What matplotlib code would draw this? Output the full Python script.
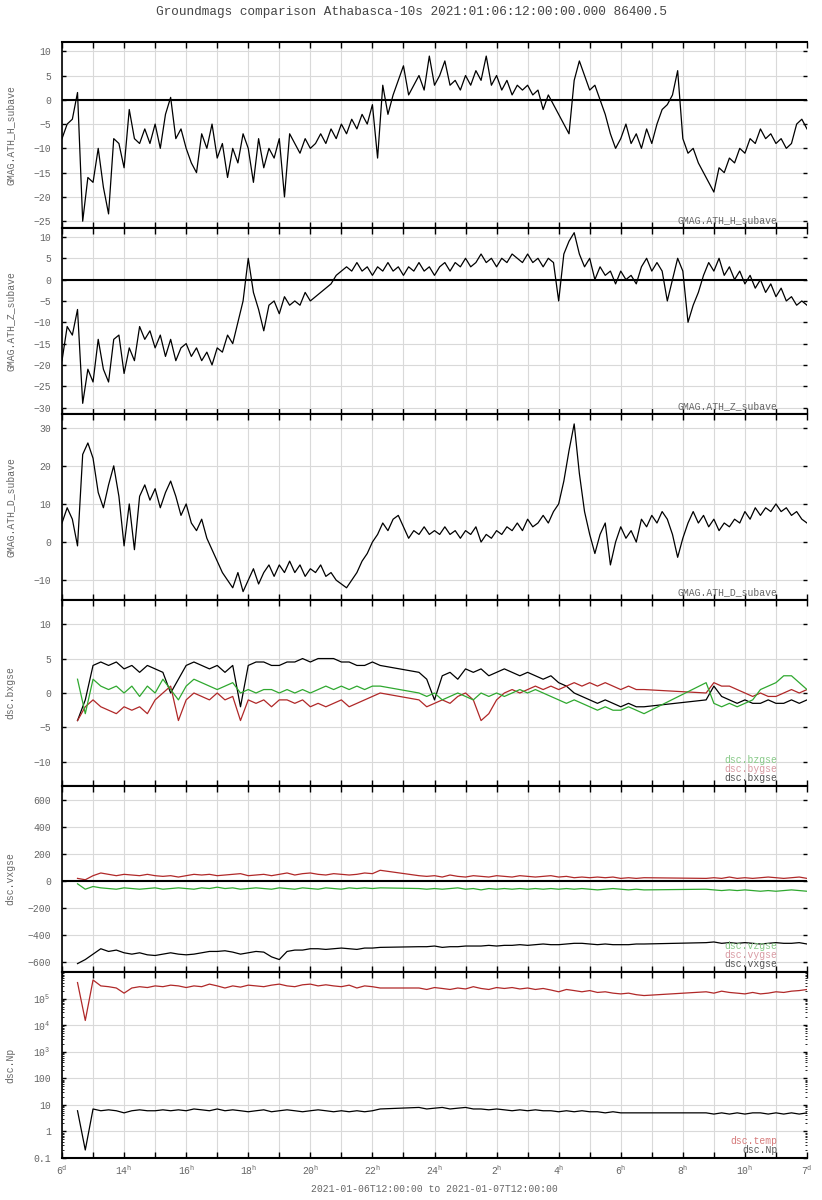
import numpy as np
import matplotlib
matplotlib.use("Agg")
import matplotlib.pyplot as plt
from matplotlib.ticker import FixedLocator, LogLocator, NullFormatter

plt.rcParams['font.family'] = ['Liberation Mono', 'DejaVu Sans Mono']

# ground magnetometer, 10 min samples from 2021-01-06 12:00 (hours)
gm_hours = np.arange(145) / 6.0

ath_h = [-8, -5, -4, 1.5, -25, -16, -17, -10, -18, -23.5, -8, -9, -14, -2, -8, -9,
         -6, -9, -5, -10, -3, 0.5, -8, -6, -10, -13, -15, -7, -10, -5, -12, -9,
         -16, -10, -13, -7, -10, -17, -8, -14, -10, -12, -8, -20, -7, -9, -11, -8,
         -10, -9, -7, -9, -6, -8, -5, -7, -4, -6, -3, -5, -1, -12, 3, -3, 1, 4,
         7, 1, 3, 5, 2, 9, 3, 5, 8, 3, 4, 2, 5, 3, 6, 4, 9, 3, 5, 2,
         4, 1, 3, 2, 3, 1, 2, -2, 1, -1, -3, -5, -7, 4, 8, 5, 2, 3, 0, -3,
         -7, -10, -8, -5, -9, -7, -10, -6, -9, -5, -2, -1, 1, 6, -8, -11, -10, -13, -15, -17,
         -19, -14, -15, -12, -13, -10, -11, -8, -9, -6, -8, -7, -9, -8, -10, -9, -5, -4, -6]

ath_z = [-19, -11, -13, -7, -29, -21, -24, -14, -21, -24, -14, -13, -22, -16, -19, -11,
         -14, -12, -16, -13, -18, -14, -19, -16, -15, -18, -16, -19, -17, -20, -16, -17,
         -13, -15, -10, -5, 5, -3, -7, -12, -6, -5, -8, -4, -6, -5, -6, -3,
         -5, -4, -3, -2, -1, 1, 2, 3, 2, 4, 2, 3, 1, 3, 2, 4, 2, 3,
         1, 3, 2, 4, 2, 3, 1, 3, 4, 2, 4, 3, 5, 3, 4, 6, 4, 5, 3, 5,
         4, 6, 5, 4, 6, 4, 5, 3, 5, 4, -5, 6, 9, 11, 6, 3, 5, 0, 3, 1,
         2, -1, 2, 0, 1, -1, 3, 5, 2, 4, 2, -5, 0, 5, 2, -10, -6, -3, 1, 4,
         2, 5, 1, 3, 0, 2, -1, 1, -2, 0, -3, -1, -4, -2, -5, -4, -6, -5, -6]

ath_d = [5, 9, 6, -1, 23, 26, 22, 13, 9, 15, 20, 12, -1, 10, -2, 12,
         15, 11, 14, 9, 13, 16, 12, 7, 10, 5, 3, 6, 1, -2, -5, -8,
         -10, -12, -8, -13, -10, -7, -11, -8, -6, -9, -6, -8, -5, -8, -6, -9,
         -7, -8, -6, -9, -8, -10, -11, -12, -10, -8, -5, -3, 0, 2, 5, 3, 6, 7,
         4, 1, 3, 2, 4, 2, 3, 2, 4, 2, 3, 1, 3, 2, 4, 0, 2, 1, 3, 2,
         4, 3, 5, 3, 6, 4, 5, 7, 5, 8, 10, 16, 24, 31, 18, 8, 2, -3, 2, 5,
         -6, 0, 4, 1, 3, 0, 6, 4, 7, 5, 8, 6, 2, -4, 1, 5, 8, 5, 7, 4,
         6, 3, 5, 4, 6, 5, 8, 6, 9, 7, 9, 8, 10, 8, 9, 7, 8, 6, 5]

# DSCOVR solar wind, 15 min samples (hours), data gaps left out
sw_hours = np.concatenate([np.arange(0.5, 10.26, 0.25),
                           np.arange(11.5, 18.76, 0.25),
                           np.arange(20.75, 24.01, 0.25)])

bx = [-4, -1, 4, 4.5, 4, 4.5, 3.5, 4, 3, 4, 3.5, 3, 0, 2, 4, 4.5, 4, 3.5, 4, 3,
      4, -2, 4, 4.5, 4.5, 4, 4, 4.5, 4.5, 5, 4.5, 5, 5, 5, 4.5, 4.5, 4, 4, 4.5, 4,
      3, 2, -1, 2.5, 3, 2, 3.5, 3, 3.5, 2.5, 3, 3.5, 3, 2.5, 3, 2.5, 2, 2.5, 1.5, 1,
      0, -0.5, -1, -1.5, -1, -1.5, -2, -1.5, -2, -2,
      -1, 1, -0.5, -1, -1.5, -1, -1.5, -1.5, -1, -1.5, -1.5, -1, -1.5, -1]
by = [-4, -2, -1, -2, -2.5, -3, -2, -2.5, -2, -3, -1, 0, 1, -4, -1, 0, -0.5, -1, 0, -1,
      -0.5, -4, -1, -1.5, -1, -2, -1, -1, -1.5, -1, -2, -1.5, -2, -1.5, -1, -2, -1.5, -1, -0.5, 0,
      -1, -2, -1.5, -1, -1.5, -0.5, 0, -1, -4, -3, -1, 0, 0.5, 0, 0.5, 1, 0.5, 1, 0.5, 1,
      1.5, 1, 1.5, 1, 1.5, 1, 0.5, 1, 0.5, 0.5,
      0, 1.5, 1, 1, 0.5, 0, -0.5, 0, -0.5, -0.5, 0, 0.5, 0, 0.5]
bz = [2, -3, 2, 1, 0.5, 1, 0, 1, -0.5, 1, 0, 2, 0.5, -1, 1, 2, 1.5, 1, 0.5, 1,
      1.5, 0, 0.5, 0, 0.5, 0.5, 0, 0.5, 0, 0.5, 0, 0.5, 1, 0.5, 1, 0.5, 1, 0.5, 1, 1,
      0, -0.5, 0, -1, -0.5, 0, -0.5, -1, 0, -0.5, 0, -0.5, 0, 0.5, 0, 0.5, 0, -0.5, -1, -1.5,
      -1, -1.5, -2, -2.5, -2, -2.5, -2.5, -2, -2.5, -3,
      1.5, -1.5, -2, -1.5, -2, -1.5, -1, 0.5, 1, 1.5, 2.5, 2.5, 1.5, 0.5]

vx = [-610, -580, -540, -500, -520, -510, -530, -540, -530, -545, -550, -540, -530, -540, -545,
      -540, -530, -520, -520, -515, -525, -540, -530, -520, -525, -560, -580, -520, -510, -510,
      -500, -500, -505, -500, -495, -500, -505, -495, -495, -490,
      -485, -485, -480, -490, -485, -485, -480, -480, -480, -475, -480, -475, -475, -470, -475,
      -470, -465, -470, -470, -465, -460, -460, -465, -470, -465, -470, -470, -470, -465, -465,
      -455, -450, -460, -455, -460, -455, -460, -465, -460, -455, -460, -460, -455, -465]
vy = [20, 10, 40, 60, 50, 40, 50, 45, 40, 50, 40, 35, 40, 30, 40, 50, 45, 50, 40, 45,
      50, 55, 40, 45, 50, 40, 50, 60, 45, 55, 60, 50, 45, 55, 50, 45, 50, 60, 55, 80,
      40, 35, 40, 30, 45, 35, 30, 40, 35, 30, 40, 35, 30, 40, 35, 30, 35, 40, 30, 35,
      25, 30, 25, 30, 25, 30, 20, 25, 20, 25,
      20, 25, 20, 30, 20, 25, 20, 25, 30, 25, 20, 25, 30, 20]
vz = [-20, -60, -40, -50, -55, -60, -50, -55, -60, -55, -50, -60, -55, -50, -55, -60, -50, -55, -45, -55,
      -50, -60, -55, -50, -55, -60, -50, -55, -60, -50, -55, -60, -50, -55, -60, -50, -55, -50, -55, -50,
      -55, -60, -55, -60, -55, -50, -60, -55, -65, -55, -60, -55, -60, -55, -60, -55, -60, -55, -60, -55,
      -60, -55, -60, -65, -60, -55, -60, -65, -60, -65,
      -60, -65, -70, -65, -70, -65, -70, -75, -70, -75, -70, -65, -70, -75]

np_dens = [6, 0.2, 7, 6, 6.5, 6, 5, 6, 6.5, 6, 6, 6.5, 6, 6.5, 6, 7, 6.5, 6, 7, 6,
           6.5, 6, 5.5, 6, 6.5, 5.5, 6, 6.5, 6, 5.5, 6, 6.5, 6, 5.5, 6, 5.5, 6, 5.5, 6, 7,
           8, 7, 7.5, 8, 7, 7.5, 8, 7, 7, 6.5, 7, 6.5, 6, 6.5, 6, 6.5, 6, 6, 5.5, 6,
           5.5, 6, 5.5, 5.5, 5, 5.5, 5, 5, 5, 5,
           5, 4.5, 5, 4.5, 5, 4.5, 5, 5, 4.5, 5, 4.5, 5, 4.5, 5]
temp = [4e5, 1.5e4, 5e5, 3e5, 2.8e5, 2.5e5, 1.6e5, 2.5e5, 2.8e5, 2.6e5, 3e5, 2.8e5, 3.2e5, 3e5, 2.6e5,
        3e5, 2.8e5, 3.5e5, 3e5, 2.5e5, 3e5, 2.7e5, 3.2e5, 3e5, 2.8e5, 3.2e5, 3.5e5, 3e5, 2.8e5, 3.3e5,
        3.5e5, 3e5, 3.3e5, 3e5, 2.8e5, 3.2e5, 2.5e5, 3e5, 2.8e5, 2.5e5,
        2.5e5, 2.2e5, 2.6e5, 2.4e5, 2.2e5, 2.5e5, 2.3e5, 2.8e5, 2.4e5, 2.2e5, 2.6e5, 2.4e5, 2.6e5, 2.3e5, 2.5e5,
        2.2e5, 2.4e5, 2.1e5, 1.8e5, 2.2e5, 2e5, 1.8e5, 2e5, 1.7e5, 1.8e5, 1.6e5, 1.5e5, 1.6e5, 1.4e5, 1.3e5,
        1.8e5, 1.6e5, 1.9e5, 1.7e5, 1.6e5, 1.5e5, 1.7e5, 1.5e5, 1.6e5, 1.8e5, 1.7e5, 1.9e5, 2e5, 2.2e5]

hour_labels = ['6$^\\mathregular{d}$', '14$^\\mathregular{h}$', '16$^\\mathregular{h}$',
               '18$^\\mathregular{h}$', '20$^\\mathregular{h}$', '22$^\\mathregular{h}$',
               '24$^\\mathregular{h}$', '2$^\\mathregular{h}$', '4$^\\mathregular{h}$',
               '6$^\\mathregular{h}$', '8$^\\mathregular{h}$', '10$^\\mathregular{h}$',
               '7$^\\mathregular{d}$']

BLACK = 'black'
RED = '#b02828'
GREEN = '#2fa82f'
TXT = '#666666'
GRID = '#d9d9d9'

fig = plt.figure(figsize=(8.22, 12), dpi=100)
W, H = 822.0, 1200.0
left_px, right_px = 62, 807
panel_tops = [42, 228, 414, 600, 786, 972]
panel_h = 186

axes = []
for top in panel_tops:
    ax = fig.add_axes([left_px / W, 1 - (top + panel_h) / H,
                       (right_px - left_px) / W, panel_h / H])
    axes.append(ax)


def style_axis(ax, ylabel, ylim, yticks=None):
    ax.set_xlim(0, 24)
    ax.set_ylim(*ylim)
    if yticks is not None:
        ax.set_yticks(yticks)
    ax.set_xticks(np.arange(0, 25, 1))
    ax.grid(True, color=GRID, lw=0.8, zorder=0)
    ax.set_axisbelow(True)
    for s in ['top', 'bottom']:
        ax.spines[s].set_linewidth(1.5)
    ax.spines['left'].set_linewidth(1.2)
    ax.spines['right'].set_visible(False)
    ax.tick_params(axis='x', direction='in', length=4, width=1, top=True,
                   bottom=True, labelbottom=False)
    ax.tick_params(axis='y', direction='in', length=3, width=1, right=True,
                   labelsize=7, colors=BLACK, labelcolor=TXT, pad=8)
    ax.set_ylabel(ylabel, fontsize=7, color=TXT)
    ax.yaxis.set_label_coords(-0.062, 0.5)


def legend_text(ax, entries):
    # entries from bottom to top
    for k, (txt, col) in enumerate(entries):
        ax.annotate(txt, xy=(0.96, 0), xycoords='axes fraction',
                    xytext=(0, 8 + 9 * k), textcoords='offset pixels',
                    ha='right', va='center', fontsize=7, color=col)


# panel 1: H
ax = axes[0]
ax.plot(gm_hours, ath_h, color=BLACK, lw=0.9)
ax.axhline(0, color=BLACK, lw=1.5)
style_axis(ax, 'GMAG.ATH_H_subave', (-26.4, 11.9), np.arange(-25, 11, 5))
legend_text(ax, [('GMAG.ATH_H_subave', TXT)])

# panel 2: Z
ax = axes[1]
ax.plot(gm_hours, ath_z, color=BLACK, lw=0.9)
ax.axhline(0, color=BLACK, lw=1.5)
style_axis(ax, 'GMAG.ATH_Z_subave', (-31.5, 12.1), np.arange(-30, 11, 5))
legend_text(ax, [('GMAG.ATH_Z_subave', TXT)])

# panel 3: D
ax = axes[2]
ax.plot(gm_hours, ath_d, color=BLACK, lw=0.9)
style_axis(ax, 'GMAG.ATH_D_subave', (-15.2, 33.6), np.arange(-10, 31, 10))
legend_text(ax, [('GMAG.ATH_D_subave', TXT)])

# panel 4: B gse
ax = axes[3]
ax.plot(sw_hours, bx, color=BLACK, lw=0.9)
ax.plot(sw_hours, by, color=RED, lw=0.9)
ax.plot(sw_hours, bz, color=GREEN, lw=0.9)
style_axis(ax, 'dsc.bxgse', (-13.5, 13.5), np.arange(-10, 11, 5))
legend_text(ax, [('dsc.bxgse', '#555555'), ('dsc.bygse', '#d89aa2'),
                 ('dsc.bzgse', '#86c986')])

# panel 5: V gse
ax = axes[4]
ax.plot(sw_hours, vx, color=BLACK, lw=0.9)
ax.plot(sw_hours, vy, color=RED, lw=0.9)
ax.plot(sw_hours, vz, color=GREEN, lw=0.9)
ax.axhline(0, color=BLACK, lw=1.5)
style_axis(ax, 'dsc.vxgse', (-672, 703), np.arange(-600, 601, 200))
legend_text(ax, [('dsc.vxgse', '#555555'), ('dsc.vygse', '#d89aa2'),
                 ('dsc.vzgse', '#86c986')])

# panel 6: Np and temperature (log)
ax = axes[5]
ax.plot(sw_hours, np_dens, color=BLACK, lw=0.9)
ax.plot(sw_hours, temp, color=RED, lw=0.9)
ax.set_yscale('log')
style_axis(ax, 'dsc.Np', (0.1, 1e6))
ax.yaxis.set_major_locator(FixedLocator([0.1, 1, 10, 100, 1e3, 1e4, 1e5]))
ax.set_yticklabels(['0.1', '1', '10', '100', '10$^\\mathregular{3}$',
                    '10$^\\mathregular{4}$', '10$^\\mathregular{5}$'])
ax.yaxis.set_minor_locator(LogLocator(base=10, subs=np.arange(2, 10)))
ax.yaxis.set_minor_formatter(NullFormatter())
ax.tick_params(axis='y', which='minor', direction='in', length=1.5, right=True)
legend_text(ax, [('dsc.Np', '#555555'), ('dsc.temp', '#d67a7a')])

ax.tick_params(axis='x', labelbottom=True, labelsize=7, labelcolor=TXT, pad=4)
ax.set_xticklabels([hour_labels[i // 2] if i % 2 == 0 else '' for i in range(25)])
ax.set_xlabel('2021-01-06T12:00:00 to 2021-01-07T12:00:00', fontsize=7,
              color=TXT, labelpad=5)

fig.suptitle('Groundmags comparison Athabasca-10s 2021:01:06:12:00:00.000 86400.5',
             y=1 - 12 / H, va='center', fontsize=9.2, color='#444444')

fig.savefig('out.png', dpi=100)
